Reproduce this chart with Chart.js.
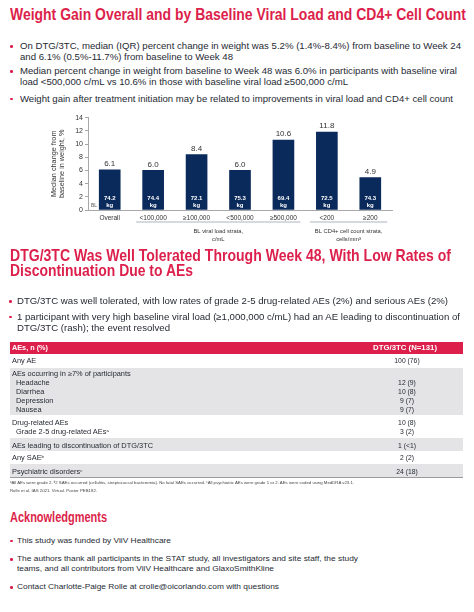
<!DOCTYPE html>
<html>
<head>
<meta charset="utf-8">
<script src="https://cdn.jsdelivr.net/npm/chart.js@4.4.0/dist/chart.umd.min.js"></script>
<style>
    html, body { margin: 0; padding: 0; background: #fff; }
    body {
        width: 474px; height: 612px; position: relative; overflow: hidden;
        font-family: "Liberation Sans", Arial, sans-serif; color: #262a33;
    }
    .t { position: absolute; white-space: nowrap; transform-origin: 0 50%; }
    .h { color: #dc1f4b; font-weight: bold; }
    .b9 { font-size: 9px; line-height: 9px; }
    .b8 { font-size: 8px; line-height: 8px; }
    .tb { font-size: 6.5px; line-height: 6.5px; }
    .fn { font-size: 4.3px; line-height: 4.3px; color: #444; }
    .v { position: absolute; left: 357px; width: 100px; text-align: center; font-size: 6.8px; line-height: 6.5px; }
    .dot { position: absolute; width: 2.6px; height: 2.6px; background: #dc1f4b; border-radius: 50%; }
    .row { position: absolute; left: 10px; width: 453px; background: #e4e4e7; }
    sup { font-size: 60%; line-height: 0; vertical-align: 0.5em; }
</style>
</head>
<body>

<!-- Section 1 -->
<div class="t h" style="left:10px;top:7px;font-size:16px;line-height:16px" data-w="456">Weight Gain Overall and by Baseline Viral Load and CD4+ Cell Count</div>

<div class="dot" style="left:10px;top:45.4px"></div>
<div class="t b9" style="left:20px;top:42.2px" data-w="441">On DTG/3TC, median (IQR) percent change in weight was 5.2% (1.4%-8.4%) from baseline to Week 24</div>
<div class="t b9" style="left:20px;top:52.8px" data-w="213">and 6.1% (0.5%-11.7%) from baseline to Week 48</div>
<div class="dot" style="left:10px;top:70.4px"></div>
<div class="t b9" style="left:20px;top:67.2px" data-w="437">Median percent change in weight from baseline to Week 48 was 6.0% in participants with baseline viral</div>
<div class="t b9" style="left:20px;top:78.2px" data-w="328">load &lt;500,000 c/mL vs 10.6% in those with baseline viral load ≥500,000 c/mL</div>
<div class="dot" style="left:10px;top:97.9px"></div>
<div class="t b9" style="left:20px;top:94.8px" data-w="433">Weight gain after treatment initiation may be related to improvements in viral load and CD4+ cell count</div>

<canvas id="weightChart" width="474" height="148" style="position:absolute;left:0;top:100px"></canvas>

<!-- Section 2 -->
<div class="t h" style="left:10px;top:246.5px;font-size:17px;line-height:17px" data-w="441">DTG/3TC Was Well Tolerated Through Week 48, With Low Rates of</div>
<div class="t h" style="left:10px;top:262.2px;font-size:17px;line-height:17px" data-w="183">Discontinuation Due to AEs</div>

<div class="dot" style="left:9px;top:300.4px"></div>
<div class="t b9" style="left:17px;top:297.2px" data-w="431">DTG/3TC was well tolerated, with low rates of grade 2-5 drug-related AEs (2%) and serious AEs (2%)</div>
<div class="dot" style="left:9px;top:315.9px"></div>
<div class="t b9" style="left:17px;top:312.8px" data-w="443">1 participant with very high baseline viral load (≥1,000,000 c/mL) had an AE leading to discontinuation of</div>
<div class="t b9" style="left:17px;top:323.8px" data-w="153">DTG/3TC (rash); the event resolved</div>

<!-- AE table -->
<div class="row" style="top:341.7px;height:12.3px;background:#dc1f4b"></div>
<div class="t tb" style="left:12px;top:344.7px;color:#fff;font-weight:bold" data-w="36">AEs, n (%)</div>
<div class="t tb" style="left:373px;top:344.7px;color:#fff;font-weight:bold" data-w="64">DTG/3TC (N=131)</div>

<div class="row" style="top:367.6px;height:47.6px"></div>
<div class="row" style="top:438.2px;height:12.6px"></div>
<div class="row" style="top:464.4px;height:12.7px"></div>
<div class="row" style="top:477.1px;height:1px;background:#9a9a9e"></div>

<div class="t tb" style="left:12px;top:358.4px">Any AE</div>
<div class="v" style="top:358.4px">100 (76)</div>
<div class="t tb" style="left:12px;top:370.8px">AEs occurring in ≥7% of participants</div>
<div class="t tb" style="left:16px;top:379.8px">Headache</div>
<div class="v" style="top:379.8px">12 (9)</div>
<div class="t tb" style="left:16px;top:388.8px">Diarrhea</div>
<div class="v" style="top:388.8px">10 (8)</div>
<div class="t tb" style="left:16px;top:397.8px">Depression</div>
<div class="v" style="top:397.8px">9 (7)</div>
<div class="t tb" style="left:16px;top:406.8px">Nausea</div>
<div class="v" style="top:406.8px">9 (7)</div>
<div class="t tb" style="left:12px;top:419.5px">Drug-related AEs</div>
<div class="v" style="top:419.5px">10 (8)</div>
<div class="t tb" style="left:16px;top:428.5px">Grade 2-5 drug-related AEs<sup>a</sup></div>
<div class="v" style="top:428.5px">3 (2)</div>
<div class="t tb" style="left:12px;top:442.5px" id="tableRef" data-w="141">AEs leading to discontinuation of DTG/3TC</div>
<div class="v" style="top:442.5px">1 (&lt;1)</div>
<div class="t tb" style="left:12px;top:454.8px">Any SAE<sup>b</sup></div>
<div class="v" style="top:454.8px">2 (2)</div>
<div class="t tb" style="left:12px;top:468.5px">Psychiatric disorders<sup>c</sup></div>
<div class="v" style="top:468.5px">24 (18)</div>

<div class="t fn" style="left:10px;top:481.2px" data-w="344"><sup>a</sup>All AEs were grade 2. <sup>b</sup>2 SAEs occurred (cellulitis, streptococcal bacteremia). No fatal SAEs occurred. <sup>c</sup>All psychiatric AEs were grade 1 or 2. AEs were coded using MedDRA v23.1.</div>
<div class="t fn" style="left:10px;top:488.6px" data-w="87">Rolle et al. IAS 2021. Virtual. Poster PEB182.</div>

<!-- Acknowledgments -->
<div class="t h" style="left:10px;top:510px;font-size:14px;line-height:14px" data-w="97">Acknowledgments</div>
<div class="dot" style="left:10px;top:539.7px"></div>
<div class="t b8" style="left:17px;top:537px" data-w="154">This study was funded by ViiV Healthcare</div>
<div class="dot" style="left:10px;top:558px"></div>
<div class="t b8" style="left:17px;top:555.3px" data-w="341">The authors thank all participants in the STAT study, all investigators and site staff, the study</div>
<div class="t b8" style="left:17px;top:565.3px" data-w="257">teams, and all contributors from ViiV Healthcare and GlaxoSmithKline</div>
<div class="dot" style="left:10px;top:586px"></div>
<div class="t b8" style="left:17px;top:583.3px" data-w="262">Contact Charlotte-Paige Rolle at crolle@oicorlando.com with questions</div>

<script>
// Chart data
const categories = ['Overall', '<100,000', '≥100,000', '<500,000', '≥500,000', '<200', '≥200'];
const medianChange = [6.1, 6.0, 8.4, 6.0, 10.6, 11.8, 4.9];
const baselineKg = ['74.2', '74.4', '72.1', '75.3', '69.4', '72.5', '74.3'];
const yAxisMax = 14;
const yAxisStep = 2;
const groupLabels = [['BL viral load strata,', 'c/mL'], ['BL CD4+ cell count strata,', 'cells/mm³']];
const groupSpans = [[1, 4], [5, 6]];

const FONT = '"Liberation Sans", Arial, sans-serif';

// Stretch each text line to the width it has in the poster
function fitLines() {
    document.querySelectorAll('[data-w]').forEach(el => {
        const w = el.getBoundingClientRect().width;
        if (w > 0) el.style.transform = `scaleX(${parseFloat(el.dataset.w) / w})`;
    });
    // table body lines share the scale of the widest row
    const ref = document.getElementById('tableRef');
    const tableScale = ref.style.transform;
    document.querySelectorAll('.tb:not([data-w])').forEach(el => {
        el.style.transform = tableScale;
    });
}

// Value labels, baseline weights and strata brackets
const barAnnotations = {
    id: 'barAnnotations',
    afterDatasetsDraw(chart) {
        const { ctx, chartArea } = chart;
        const bars = chart.getDatasetMeta(0).data;
        ctx.save();
        ctx.textAlign = 'center';
        ctx.textBaseline = 'middle';
        bars.forEach((bar, i) => {
            ctx.fillStyle = '#333';
            ctx.font = `8px ${FONT}`;
            ctx.fillText(medianChange[i].toFixed(1), bar.x, bar.y - 6);
            ctx.fillStyle = '#fff';
            ctx.font = `bold 6px ${FONT}`;
            ctx.fillText(baselineKg[i], bar.x, chartArea.bottom - 12);
            ctx.fillText('kg', bar.x, chartArea.bottom - 4.5);
        });

        ctx.fillStyle = '#555';
        ctx.font = `5px ${FONT}`;
        ctx.textAlign = 'left';
        ctx.fillText('BL', chartArea.left + 3, chartArea.bottom - 4);

        const xs = chart.scales.x;
        ctx.textAlign = 'center';
        ctx.font = `5.8px ${FONT}`;
        groupSpans.forEach(([a, b], g) => {
            const x0 = xs.getPixelForValue(a) - 17;
            const x1 = xs.getPixelForValue(b) + 17;
            ctx.strokeStyle = '#c9ccd4';
            ctx.lineWidth = 1.5;
            ctx.beginPath();
            ctx.moveTo(x0, chartArea.bottom + 12);
            ctx.lineTo(x1, chartArea.bottom + 12);
            ctx.stroke();
            ctx.fillStyle = '#333';
            groupLabels[g].forEach((t, k) => {
                ctx.fillText(t, (x0 + x1) / 2, chartArea.bottom + 21.7 + k * 7.3);
            });
        });
        ctx.restore();
    }
};

function drawChart() {
    const ctx = document.getElementById('weightChart');
    new Chart(ctx, {
        type: 'bar',
        data: {
            labels: categories,
            datasets: [{
                data: medianChange,
                backgroundColor: '#0a2a5c',
                barThickness: 21
            }]
        },
        options: {
            responsive: false,
            animation: false,
            devicePixelRatio: 1,
            layout: { padding: { top: 17.6, right: 82, bottom: 0, left: 0 } },
            plugins: {
                legend: { display: false },
                tooltip: { enabled: false }
            },
            scales: {
                x: {
                    grid: { display: false, drawTicks: false },
                    border: { display: true, color: '#a8a8ac' },
                    ticks: {
                        color: '#333', padding: 4, maxRotation: 0, autoSkip: false,
                        font: { size: 6.5, family: FONT }
                    },
                    afterFit(scale) { scale.height = 38; }
                },
                y: {
                    min: 0,
                    max: yAxisMax,
                    grid: { drawOnChartArea: false, drawTicks: true, tickLength: 3, color: '#a8a8ac' },
                    border: { display: true, color: '#a8a8ac' },
                    ticks: {
                        stepSize: yAxisStep, color: '#333', padding: 2,
                        font: { size: 7, family: FONT }
                    },
                    title: {
                        display: true,
                        text: ['Median change from', 'baseline in weight, %'],
                        color: '#333',
                        font: { size: 7.3, family: FONT, lineHeight: 1.1 },
                        padding: { top: 50, bottom: 0 }
                    },
                    afterFit(scale) { scale.width = 88; }
                }
            }
        },
        plugins: [barAnnotations]
    });
}

fitLines();
drawChart();
</script>
</body>
</html>
